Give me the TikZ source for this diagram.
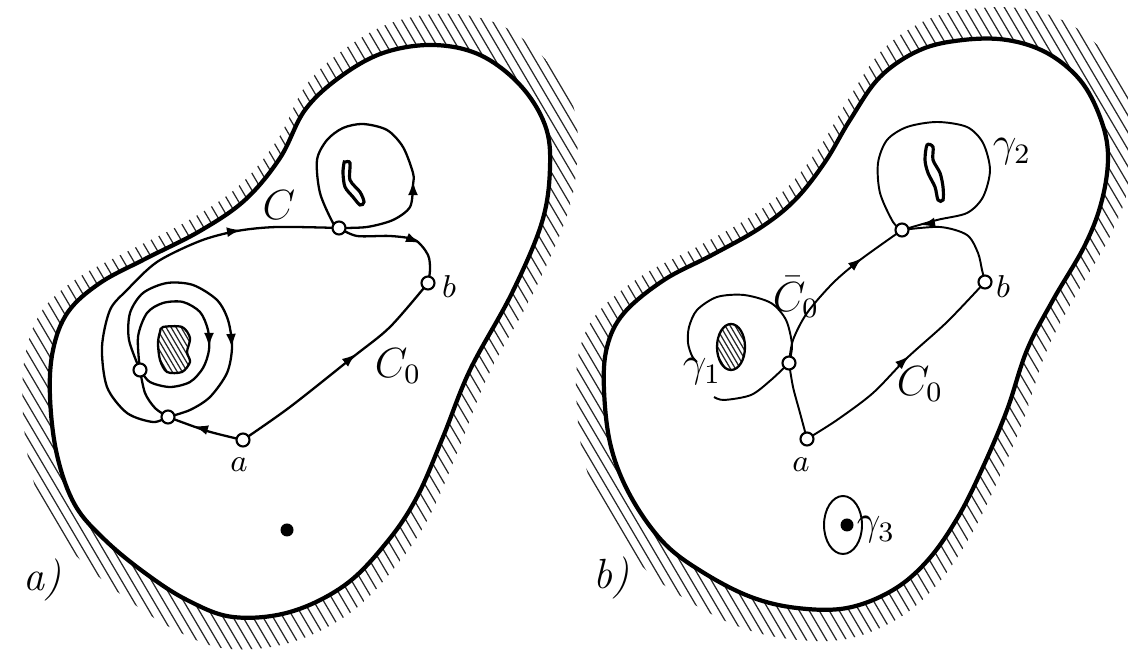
\documentclass[tikz,border=0pt]{standalone}
\usepackage{tikz}
\usetikzlibrary{arrows.meta,backgrounds}

\begin{document}
\begin{tikzpicture}[x=0.01cm, y=-0.01cm,
  every node/.style={font=\fontsize{9.5}{11}\selectfont},
  big/.style={font=\fontsize{12}{14}\selectfont},
  rim/.style={line width=1.2pt, line join=round},
  hatch/.style={line width=0.35pt, black!85},
  crv/.style={line width=0.65pt},
  thin crv/.style={line width=0.55pt},
  tip/.style={-{Latex[length=4pt,width=2.8pt]}, line width=0.6pt},
  pt/.style={draw, circle, fill=white, line width=0.6pt, inner sep=0pt, minimum size=0.13cm},
  dot/.style={circle, fill=black, inner sep=0pt, minimum size=0.13cm},
  outline a/.style={insert path={plot[smooth cycle, tension=0.6] coordinates {
      (305,110) (340,77) (383,53) (433,45) (480,55) (520,85) (545,125) (550,167)
      (542,222) (512,293) (470,370) (443,437) (417,497) (387,542) (345,585)
      (290,612) (233,617) (187,600) (145,573) (105,540) (75,505) (57,455)
      (50,397) (53,350) (68,312) (100,283) (145,259) (200,231) (245,200) (280,158)}}},
  outline b/.style={insert path={plot[smooth cycle, tension=0.6] coordinates {
      (880,77) (920,50) (963,40) (1007,40) (1047,53) (1080,80) (1100,117) (1108,155)
      (1102,200) (1085,245) (1053,300) (1027,350) (1007,410) (983,467) (958,517)
      (928,560) (893,590) (847,608) (797,608) (751,597) (704,573) (664,543)
      (631,497) (611,447) (604,390) (607,347) (624,313) (664,280) (712,255)
      (760,228) (795,200) (825,162) (850,120)}}},
  kidney/.style={insert path={plot[smooth cycle] coordinates {
      (163,327) (182,327) (190,338) (187,352) (190,362) (182,372) (167,372)
      (160,360) (158,343) (160,332)}}},
  slit a/.style={insert path={plot[smooth cycle] coordinates {
      (345,162) (350,163) (350,180) (360,192) (364,202) (360,205) (353,197)
      (345,187) (343,173) (344,163)}}},
  slit b/.style={insert path={plot[smooth cycle] coordinates {
      (927,145) (933,147) (933,160) (940,173) (943,187) (943,200) (938,200)
      (935,187) (928,173) (925,160)}}},
]
\useasboundingbox (0,0) rectangle (1128,659);

% panel a)
\node[pt] (pa) at (243,440) {};
\node[pt] (pb) at (428,283) {};
\node[pt] (pj) at (339,228) {};
\node[pt] (pl) at (140,370) {};
\node[pt] (pm) at (168,417) {};
\node[dot] (da) at (287,530) {};
\node (la) at (239,465) {$a$};
\node (lb) at (449,287) {$b$};
\node[big] (lc) at (279,205) {$C$};
\node[big] (lc0) at (398,366) {$C_0$};
\node[big] (taga) at (42,580) {\textit{a)}};

% panel b)
\node[pt] (qa) at (807,439) {};
\node[pt] (qb) at (985,282) {};
\node[pt] (qj) at (902,230) {};
\node[pt] (qp) at (789,363) {};
\node[dot] (db) at (847,525) {};
\node (ma) at (801,465) {$a$};
\node (mb) at (1003,287) {$b$};
\node[big] (mc0) at (920,384) {$C_0$};
\node[big, inner sep=1pt] (mcb) at (796,297) {$\bar{C}_0$};
\node[big] (mg1) at (702,372) {$\gamma_1$};
\node[big] (mg2) at (1012,152) {$\gamma_2$};
\node[big] (mg3) at (876,530) {$\gamma_3$};
\node[big] (tagb) at (611,578) {\textit{b)}};

\begin{scope}[on background layer]
  % hatched outer boundaries
  \begin{scope}
    \clip[shift={(300,330)}, scale=1.11, shift={(-300,-330)}, outline a];
    \foreach \k in {-400,-390,...,600}
      \draw[hatch] (\k,0) -- ++(400,680);
  \end{scope}
  \begin{scope}
    \clip[shift={(856,325)}, scale=1.11, shift={(-856,-325)}, outline b];
    \foreach \k in {150,160,...,1140}
      \draw[hatch] (\k,0) -- ++(400,680);
  \end{scope}
  \fill[white, outline a];
  \fill[white, outline b];
  \draw[rim, outline a];
  \draw[rim, outline b];

  % holes
  \begin{scope}
    \clip[kidney];
    \foreach \k in {100,105,...,195}
      \draw[hatch] (\k,300) -- ++(60,102);
  \end{scope}
  \draw[crv, kidney];
  \begin{scope}
    \clip (731,347) ellipse [x radius=14, y radius=23];
    \foreach \k in {670,675,...,750}
      \draw[hatch] (\k,300) -- ++(60,102);
  \end{scope}
  \draw[crv] (731,347) ellipse [x radius=14, y radius=23];
  \draw[line width=0.9pt, fill=white, slit a];
  \draw[line width=0.9pt, fill=white, slit b];

  % curves a)
  \draw[crv] plot[smooth] coordinates {(pa) (290,407) (353,357) (390,327) (pb)};
  \draw[crv] plot[smooth] coordinates {(pa) (207,431) (pm)};
  \draw[crv] plot[smooth] coordinates {(pm) (155,408) (145,393) (pl)};
  \draw[crv] plot[smooth] coordinates {(pl) (138,337) (147,313) (163,303)
      (183,302) (200,312) (208,330) (209,350) (203,368) (190,382) (170,387) (150,382) (pl)};
  \draw[crv] plot[smooth] coordinates {(pl) (129,340) (130,313) (143,293)
      (167,283) (193,285) (217,300) (228,320) (232,347) (227,373) (210,397) (190,410) (pm)};
  \draw[crv] plot[smooth] coordinates {(pm) (153,422) (127,413) (107,387)
      (102,347) (110,310) (127,290) (157,262) (200,241) (237,231) (277,227) (pj)};
  \draw[crv] plot[smooth] coordinates {(pj) (367,227) (393,220) (410,207)
      (413,185) (413,173) (403,147) (387,130) (363,124) (343,128) (327,140)
      (317,160) (320,193) (333,223) (pj)};
  \draw[crv] plot[smooth] coordinates {(pj) (357,236) (390,236) (415,240)
      (428,255) (430,270) (pb)};
  % arrow tips a)
  \draw[tip] (346,362) -- (356,354);
  \draw[tip] (204,429) -- (194,426);
  \draw[tip] (209,334) -- (209,347);
  \draw[tip] (231,334) -- (232,348);
  \draw[tip] (228,232) -- (241,230);
  \draw[tip] (413,194) -- (413,181);
  \draw[tip] (408,238) -- (420,243);

  % curves b)
  \draw[thin crv] plot[smooth] coordinates {(qa) (837,420) (873,393) (907,358) (947,322) (qb)};
  \draw[thin crv] plot[smooth] coordinates {(qa) (800,413) (793,387) (qp)};
  \draw[thin crv] plot[smooth] coordinates {(qp) (793,340) (807,313) (833,283) (860,260) (qj)};
  \draw[thin crv] plot[smooth] coordinates {(qj) (940,227) (967,235) (978,253) (982,270) (qb)};
  \draw[thin crv] plot[smooth] coordinates {(qj) (893,222) (880,193) (878,163)
      (887,140) (907,127) (937,122) (967,127) (983,143) (990,170) (983,197)
      (967,213) (937,220) (qj)};
  \draw[thin crv] plot[smooth] coordinates {(qp) (792,345) (786,320) (771,303) (744,295)
      (717,297) (697,310) (689,327) (688,343) (692,356) (697,362)};
  \draw[thin crv] plot[smooth] coordinates {(qp) (771,380) (751,395) (724,400) (714,397)};
  \draw[thin crv] (843,525) ellipse [x radius=19, y radius=29];
  % arrow tips b)
  \draw[tip] (898,366) -- (909,356);
  \draw[tip] (851,267) -- (862,258);
  \draw[tip] (932,223) -- (921,225);
\end{scope}
\end{tikzpicture}
\end{document}
